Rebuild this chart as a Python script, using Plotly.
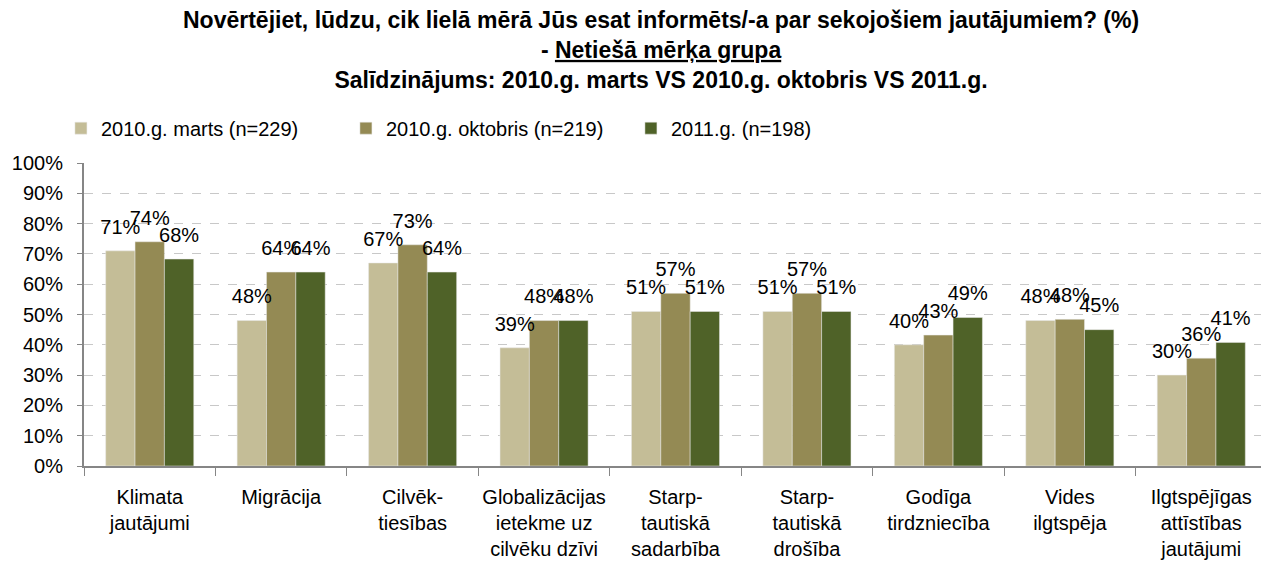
import plotly.graph_objects as go

categories = [
    "Klimata<br>jautājumi",
    "Migrācija",
    "Cilvēk-<br>tiesības",
    "Globalizācijas<br>ietekme uz<br>cilvēku dzīvi",
    "Starp-<br>tautiskā<br>sadarbība",
    "Starp-<br>tautiskā<br>drošība",
    "Godīga<br>tirdzniecība",
    "Vides<br>ilgtspēja",
    "Ilgtspējīgas<br>attīstības<br>jautājumi",
]
series_names = ["2010.g. marts (n=229)", "2010.g. oktobris (n=219)", "2011.g. (n=198)"]
marts_2010 = [71, 48, 67, 39, 51, 51, 40, 48, 30]
oktobris_2010 = [74, 64, 73, 48, 57, 57, 43.2, 48.4, 35.6]
gads_2011 = [68.3, 64, 64, 48, 51, 51, 49, 45, 40.8]
colors = ["#C4BD97", "#948A54", "#4F6228"]

title_lines = [
    "Novērtējiet, lūdzu, cik lielā mērā Jūs esat informēts/-a par sekojošiem jautājumiem? (%)",
    "- <span style='text-decoration:underline'>Netiešā mērķa grupa</span>",
    "Salīdzinājums: 2010.g. marts VS 2010.g. oktobris VS 2011.g.",
]

FONT = "Arial, 'Liberation Sans', sans-serif"
BARGAP = 0.33

fig = go.Figure()
all_series = [marts_2010, oktobris_2010, gads_2011]
for i, (name, vals, col) in enumerate(zip(series_names, all_series, colors)):
    fig.add_trace(go.Bar(
        x=categories, y=vals, name=name, offsetgroup=str(i),
        marker=dict(color=col, line=dict(color="#E8E8E8", width=0.5)),
    ))
# data labels as grouped text points above the bars
for i, vals in enumerate(all_series):
    fig.add_trace(go.Scatter(
        x=categories, y=vals, offsetgroup=str(i), mode="markers+text",
        text=[f"{v:.0f}%" for v in vals], textposition="top center",
        textfont=dict(family=FONT, size=20, color="#000000"),
        marker=dict(size=18, color="rgba(0,0,0,0)"),
        showlegend=False, hoverinfo="skip", cliponaxis=False,
    ))

fig.update_layout(
    width=1261, height=554,
    paper_bgcolor="white", plot_bgcolor="white",
    margin=dict(l=76, r=2, t=155, b=96, autoexpand=False),
    barmode="group", bargap=BARGAP, bargroupgap=0,
    scattermode="group", scattergap=BARGAP,
    font=dict(family=FONT, size=20, color="#000000"),
    legend=dict(
        orientation="h", x=-0.0195, xanchor="left", y=1.115, yanchor="middle",
        font=dict(family=FONT, size=20), itemwidth=30,
        entrywidth=240, entrywidthmode="pixels", traceorder="normal",
    ),
    showlegend=True,
    annotations=[dict(
        text="<b>" + "</b><br><b>".join(title_lines) + "</b>",
        xref="paper", yref="paper", x=0.488, y=1.373,
        xanchor="center", yanchor="middle", showarrow=False, align="center",
        font=dict(family=FONT, size=23, color="#000000"),
    )],
)
fig.update_yaxes(
    range=[0, 100], dtick=10, ticksuffix="%", automargin=False,
    showgrid=True, gridcolor="#C8C8C8", griddash="dash", gridwidth=1,
    showline=True, linecolor="#868686", linewidth=2,
    ticks="outside", ticklen=5, tickcolor="#868686", ticklabelstandoff=10,
    tickfont=dict(family=FONT, size=20), zeroline=False,
)
fig.update_xaxes(
    automargin=False,
    showline=True, linecolor="#868686", linewidth=2,
    ticks="outside", ticklen=8, tickcolor="#868686", tickson="boundaries",
    ticklabelstandoff=12,
    tickfont=dict(family=FONT, size=20), tickangle=0,
)

fig.write_html("out.html")
